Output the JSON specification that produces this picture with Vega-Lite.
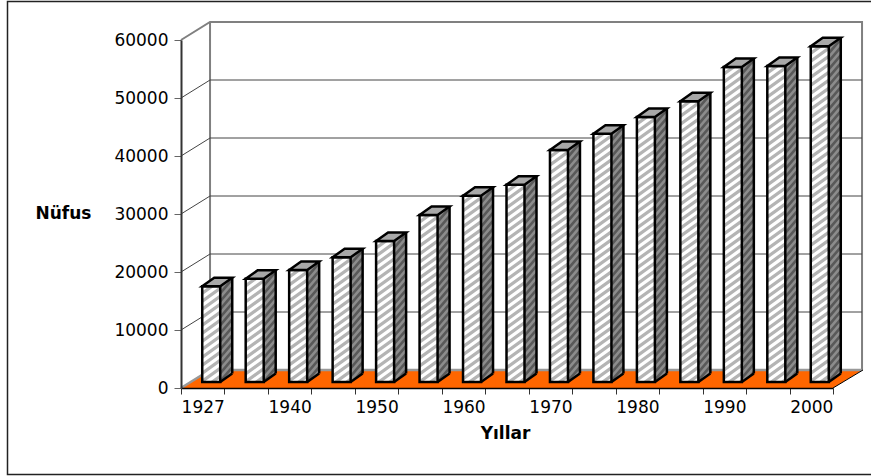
{
"$schema":"https://vega.github.io/schema/vega-lite/v6.json",
"width":871,"height":476,"padding":0,"autosize":{"type":"none"},
"background":"white",
"config":{"view":{"stroke":null}},
"data":{"values":[
{"year":"1927","pop":16500},{"year":"1935","pop":17800},{"year":"1940","pop":19300},{"year":"1945","pop":21500},{"year":"1950","pop":24300},{"year":"1955","pop":28800},{"year":"1960","pop":32100},{"year":"1965","pop":34000},{"year":"1970","pop":40000},{"year":"1975","pop":42800},{"year":"1980","pop":45700},{"year":"1985","pop":48400},{"year":"1990","pop":54300},{"year":"1997","pop":54500},{"year":"2000","pop":57900}
]},
"encoding":{
"x":{"field":"year","type":"ordinal","title":"Yıllar",
"scale":{"domain":["1927","1935","1940","1945","1950","1955","1960","1965","1970","1975","1980","1985","1990","1997","2000"],"range":[181,833],"paddingInner":0,"paddingOuter":0},
"axis":{"offset":-88,"zindex":1,"labelAngle":0,"labelOverlap":false,"tickBand":"extent","tickSize":6,"tickColor":"#333","domainColor":"black","domainWidth":1.5,"labelFont":"DejaVu Sans","labelFontSize":17,"labelColor":"black","labelPadding":5,"labelExpr":"indexof(['1927','1940','1950','1960','1970','1980','1990','2000'],datum.label)>=0?datum.label:''","titleFont":"DejaVu Sans","titleFontSize":17,"titleFontWeight":"bold","titleColor":"black","titleX":505,"titleY":45,"titleAlign":"center","titleBaseline":"middle"}},
"y":{"field":"pop","type":"quantitative","title":"Nüfus",
"scale":{"domain":[0,60000],"range":[388,40],"nice":false},
"axis":{"offset":-181,"zindex":1,"values":[0,10000,20000,30000,40000,50000,60000],"format":"d","grid":false,"tickSize":7,"tickColor":"#666","domainColor":"#333","domainWidth":2,"labelFont":"DejaVu Sans","labelFontSize":17,"labelColor":"black","labelPadding":6,"titleFont":"DejaVu Sans","titleFontSize":17,"titleFontWeight":"bold","titleColor":"black","titleAngle":0,"titleX":-118,"titleY":213,"titleAlign":"center","titleBaseline":"middle"}}
},
"layer":[
{"data":{"values":[{"anchor":"1927","level":0}]},
"mark":{"type":"point","shape":"M-21.73 -348L7.3 -366L659.3 -366L659.3 -18L7.3 -18L7.3 -366","size":4,"filled":false,"stroke":"#808080","strokeWidth":2,"opacity":1},
"encoding":{"x":{"field":"anchor","type":"ordinal"},"y":{"field":"level","type":"quantitative"}}},
{"data":{"values":[{"anchor":"1927","level":10000},{"anchor":"1927","level":20000},{"anchor":"1927","level":30000},{"anchor":"1927","level":40000},{"anchor":"1927","level":50000}]},
"mark":{"type":"point","shape":"M-21.73 0L7.3 -18L659.3 -18","size":4,"filled":false,"stroke":"#444","strokeWidth":1,"opacity":1},
"encoding":{"x":{"field":"anchor","type":"ordinal"},"y":{"field":"level","type":"quantitative"}}},
{"data":{"values":[{"anchor":"1927","level":0}]},
"mark":{"type":"point","shape":"M-21.73 0L630.27 0L660.27 -18L7.27 -18Z","size":4,"filled":true,"fill":"#FF6600","stroke":null,"opacity":1},
"encoding":{"x":{"field":"anchor","type":"ordinal"},"y":{"field":"level","type":"quantitative"}}},
{"data":{"values":[{"anchor":"1927","level":0}]},
"mark":{"type":"point","shape":"M-21.73 0L7.27 -18L659.3 -18","size":4,"filled":false,"stroke":"#999","strokeWidth":2.5,"opacity":1},
"encoding":{"x":{"field":"anchor","type":"ordinal"},"y":{"field":"level","type":"quantitative"}}},
{"mark":{"type":"point","shape":"M9 0L21 -8.5L21 430L9 430Z","size":4,"filled":true,"fill":"#8c8c8c","stroke":null,"opacity":1,"xOffset":8.5,"yOffset":-6}},
{"mark":{"type":"point","shape":"M9 5l12 -14l0 4l-12 14l0 -4m0 8l12 -14l0 4l-12 14l0 -4m0 8l12 -14l0 4l-12 14l0 -4m0 8l12 -14l0 4l-12 14l0 -4m0 8l12 -14l0 4l-12 14l0 -4m0 8l12 -14l0 4l-12 14l0 -4m0 8l12 -14l0 4l-12 14l0 -4m0 8l12 -14l0 4l-12 14l0 -4m0 8l12 -14l0 4l-12 14l0 -4m0 8l12 -14l0 4l-12 14l0 -4m0 8l12 -14l0 4l-12 14l0 -4m0 8l12 -14l0 4l-12 14l0 -4m0 8l12 -14l0 4l-12 14l0 -4m0 8l12 -14l0 4l-12 14l0 -4m0 8l12 -14l0 4l-12 14l0 -4m0 8l12 -14l0 4l-12 14l0 -4m0 8l12 -14l0 4l-12 14l0 -4m0 8l12 -14l0 4l-12 14l0 -4m0 8l12 -14l0 4l-12 14l0 -4m0 8l12 -14l0 4l-12 14l0 -4m0 8l12 -14l0 4l-12 14l0 -4m0 8l12 -14l0 4l-12 14l0 -4m0 8l12 -14l0 4l-12 14l0 -4m0 8l12 -14l0 4l-12 14l0 -4m0 8l12 -14l0 4l-12 14l0 -4m0 8l12 -14l0 4l-12 14l0 -4m0 8l12 -14l0 4l-12 14l0 -4m0 8l12 -14l0 4l-12 14l0 -4m0 8l12 -14l0 4l-12 14l0 -4m0 8l12 -14l0 4l-12 14l0 -4m0 8l12 -14l0 4l-12 14l0 -4m0 8l12 -14l0 4l-12 14l0 -4m0 8l12 -14l0 4l-12 14l0 -4m0 8l12 -14l0 4l-12 14l0 -4m0 8l12 -14l0 4l-12 14l0 -4m0 8l12 -14l0 4l-12 14l0 -4m0 8l12 -14l0 4l-12 14l0 -4m0 8l12 -14l0 4l-12 14l0 -4m0 8l12 -14l0 4l-12 14l0 -4m0 8l12 -14l0 4l-12 14l0 -4m0 8l12 -14l0 4l-12 14l0 -4m0 8l12 -14l0 4l-12 14l0 -4","size":4,"filled":true,"fill":"#595959","stroke":null,"opacity":1,"xOffset":8.5,"yOffset":-6}},
{"mark":{"type":"point","shape":"M-9 0L9 0L9 430L-9 430Z","size":4,"filled":true,"fill":"white","stroke":null,"opacity":1,"xOffset":8.5,"yOffset":-6}},
{"mark":{"type":"point","shape":"M-9 5L-2 0L3.5 0L-9 9ZM-9 13l18 -13l0 4l-18 13l0 -4m0 8l18 -13l0 4l-18 13l0 -4m0 8l18 -13l0 4l-18 13l0 -4m0 8l18 -13l0 4l-18 13l0 -4m0 8l18 -13l0 4l-18 13l0 -4m0 8l18 -13l0 4l-18 13l0 -4m0 8l18 -13l0 4l-18 13l0 -4m0 8l18 -13l0 4l-18 13l0 -4m0 8l18 -13l0 4l-18 13l0 -4m0 8l18 -13l0 4l-18 13l0 -4m0 8l18 -13l0 4l-18 13l0 -4m0 8l18 -13l0 4l-18 13l0 -4m0 8l18 -13l0 4l-18 13l0 -4m0 8l18 -13l0 4l-18 13l0 -4m0 8l18 -13l0 4l-18 13l0 -4m0 8l18 -13l0 4l-18 13l0 -4m0 8l18 -13l0 4l-18 13l0 -4m0 8l18 -13l0 4l-18 13l0 -4m0 8l18 -13l0 4l-18 13l0 -4m0 8l18 -13l0 4l-18 13l0 -4m0 8l18 -13l0 4l-18 13l0 -4m0 8l18 -13l0 4l-18 13l0 -4m0 8l18 -13l0 4l-18 13l0 -4m0 8l18 -13l0 4l-18 13l0 -4m0 8l18 -13l0 4l-18 13l0 -4m0 8l18 -13l0 4l-18 13l0 -4m0 8l18 -13l0 4l-18 13l0 -4m0 8l18 -13l0 4l-18 13l0 -4m0 8l18 -13l0 4l-18 13l0 -4m0 8l18 -13l0 4l-18 13l0 -4m0 8l18 -13l0 4l-18 13l0 -4m0 8l18 -13l0 4l-18 13l0 -4m0 8l18 -13l0 4l-18 13l0 -4m0 8l18 -13l0 4l-18 13l0 -4m0 8l18 -13l0 4l-18 13l0 -4m0 8l18 -13l0 4l-18 13l0 -4m0 8l18 -13l0 4l-18 13l0 -4m0 8l18 -13l0 4l-18 13l0 -4m0 8l18 -13l0 4l-18 13l0 -4m0 8l18 -13l0 4l-18 13l0 -4m0 8l18 -13l0 4l-18 13l0 -4m0 8l18 -13l0 4l-18 13l0 -4m0 8l18 -13l0 4l-18 13l0 -4","size":4,"filled":true,"fill":"#b4b4b4","stroke":null,"opacity":1,"xOffset":8.5,"yOffset":-6}},
{"mark":{"type":"point","shape":"M-11 0L9 0L21 -8.5L23 -8.5L23 6L-11 6Z","size":4,"filled":true,"fill":"#FF6600","stroke":null,"opacity":1,"xOffset":8.5,"yOffset":-6},
"encoding":{"y":{"datum":0,"type":"quantitative"}}},
{"data":{"values":[{"anchor":"1927","level":0}]},
"mark":{"type":"point","shape":"M-21.73 0L630.27 0L660.27 -18L662 -18L662 130L-21.73 130Z","size":4,"filled":true,"fill":"white","stroke":null,"opacity":1},
"encoding":{"x":{"field":"anchor","type":"ordinal"},"y":{"field":"level","type":"quantitative"}}},
{"data":{"values":[{"anchor":"1927","level":0}]},
"mark":{"type":"point","shape":"M630.27 0L660.27 -18","size":4,"filled":false,"stroke":"black","strokeWidth":1,"opacity":1},
"encoding":{"x":{"field":"anchor","type":"ordinal"},"y":{"field":"level","type":"quantitative"}}},
{"mark":{"type":"bar","size":18,"fill":"transparent","stroke":"black","strokeWidth":2.5,"xOffset":8.5,"yOffset":-6,"y2Offset":-6},
"encoding":{"y2":{"datum":0}}},
{"mark":{"type":"point","shape":"M-9 0L9 0L21 -8.5L3 -8.5Z","size":4,"filled":true,"fill":"#a8a8a8","stroke":"black","strokeWidth":2.5,"opacity":1,"xOffset":8.5,"yOffset":-6}},
{"mark":{"type":"rule","stroke":"black","strokeWidth":2.5,"xOffset":29.5,"yOffset":-14.5,"y2Offset":-14.5},
"encoding":{"y2":{"datum":0}}},
{"mark":{"type":"point","shape":"M9 0L21 -8.5","size":4,"filled":false,"stroke":"black","strokeWidth":2.5,"opacity":1,"xOffset":8.5,"yOffset":-6},
"encoding":{"y":{"datum":0,"type":"quantitative"}}},
{"data":{"values":[{"anchor":"1927","level":0}]},
"mark":{"type":"point","shape":"M700 -386.5L-195.23 -386.5L-195.23 86.5L700 86.5","size":4,"filled":false,"stroke":"#222","strokeWidth":1.5,"opacity":1},
"encoding":{"x":{"field":"anchor","type":"ordinal"},"y":{"field":"level","type":"quantitative"}}}
]
}
